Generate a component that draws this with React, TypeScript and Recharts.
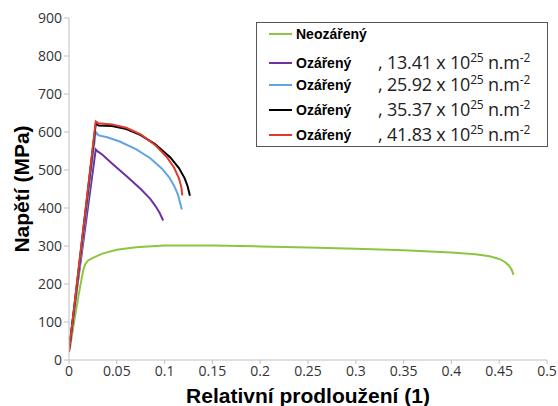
import { Line, LineChart, XAxis, YAxis } from "recharts";

const xTicks = [0, 0.05, 0.1, 0.15, 0.2, 0.25, 0.3, 0.35, 0.4, 0.45, 0.5];
const yTicks = [0, 100, 200, 300, 400, 500, 600, 700, 800, 900];

const neozareny = [
  { x: 0.001, y: 32 }, { x: 0.005, y: 95 }, { x: 0.01, y: 170 }, { x: 0.015, y: 238 },
  { x: 0.017, y: 252 }, { x: 0.02, y: 262 }, { x: 0.025, y: 269 }, { x: 0.035, y: 280 },
  { x: 0.05, y: 290 }, { x: 0.07, y: 297 }, { x: 0.1, y: 301 }, { x: 0.15, y: 301 },
  { x: 0.2, y: 299 }, { x: 0.25, y: 296 }, { x: 0.3, y: 293 }, { x: 0.35, y: 289 },
  { x: 0.4, y: 283 }, { x: 0.425, y: 278 }, { x: 0.44, y: 273 }, { x: 0.45, y: 266 },
  { x: 0.456, y: 258 }, { x: 0.46, y: 249 }, { x: 0.463, y: 238 }, { x: 0.465, y: 224 },
];

const ozareny13 = [
  { x: 0.001, y: 50 }, { x: 0.028, y: 554 }, { x: 0.03, y: 549 }, { x: 0.035, y: 540 },
  { x: 0.045, y: 517 }, { x: 0.06, y: 484 }, { x: 0.075, y: 450 }, { x: 0.085, y: 424 },
  { x: 0.091, y: 403 }, { x: 0.095, y: 386 }, { x: 0.0985, y: 367 },
];

const ozareny25 = [
  { x: 0.001, y: 35 }, { x: 0.028, y: 600 }, { x: 0.031, y: 591 }, { x: 0.04, y: 586 },
  { x: 0.053, y: 575 }, { x: 0.07, y: 555 }, { x: 0.085, y: 531 }, { x: 0.097, y: 504 },
  { x: 0.105, y: 480 }, { x: 0.11, y: 458 }, { x: 0.114, y: 435 }, { x: 0.118, y: 396 },
];

const ozareny35 = [
  { x: 0.0, y: 22 }, { x: 0.028, y: 622 }, { x: 0.031, y: 617 }, { x: 0.045, y: 616 },
  { x: 0.06, y: 608 }, { x: 0.075, y: 592 }, { x: 0.09, y: 568 }, { x: 0.106, y: 533 },
  { x: 0.115, y: 505 }, { x: 0.121, y: 478 }, { x: 0.124, y: 458 }, { x: 0.1265, y: 432 },
];

const ozareny41 = [
  { x: 0.0, y: 22 }, { x: 0.028, y: 628 }, { x: 0.031, y: 623 }, { x: 0.045, y: 620 },
  { x: 0.06, y: 611 }, { x: 0.075, y: 594 }, { x: 0.09, y: 566 }, { x: 0.102, y: 535 },
  { x: 0.11, y: 506 }, { x: 0.115, y: 478 }, { x: 0.1175, y: 455 }, { x: 0.1185, y: 433 },
];

const legendRows = [
  { label: "Neozářený", dose: "", color: "#8cc63f" },
  { label: "Ozářený", dose: "13.41", color: "#7030a0" },
  { label: "Ozářený", dose: "25.92", color: "#5ea5e6" },
  { label: "Ozářený", dose: "35.37", color: "#000000" },
  { label: "Ozářený", dose: "41.83", color: "#e03a2f" },
];

const tickStyle = { fill: "#333", fontSize: 14, fontFamily: "'Open Sans', sans-serif" };
const rowTops = [0, 29, 51, 76, 101];
const titleFont = { fill: "#000", fontSize: 21, fontWeight: "bold", fontFamily: "'Liberation Sans', Arial, sans-serif" };

function ChartLegend() {
  return (
    <div
      style={{
        position: "absolute",
        left: 256,
        top: 22,
        width: 292,
        height: 125,
        border: "1px solid #555",
        background: "#fff",
        boxSizing: "border-box",
      }}
    >
      {legendRows.map((r, i) => (
        <div
          key={i}
          style={{
            position: "absolute",
            left: 12,
            top: rowTops[i],
            height: 22,
            lineHeight: "22px",
            display: "flex",
            alignItems: "center",
            whiteSpace: "nowrap",
          }}
        >
          <span style={{ display: "inline-block", width: 23, height: 2, background: r.color, marginRight: 4 }} />
          <span style={{ fontFamily: "'Liberation Sans', Arial, sans-serif", fontWeight: "bold", fontSize: 14, width: 82 }}>
            {r.label}
          </span>
          {r.dose && (
            <span style={{ fontFamily: "'Open Sans', sans-serif", fontSize: 18, color: "#222", letterSpacing: -0.2 }}>
              , {r.dose} x 10
              <span style={{ fontSize: 12, position: "relative", top: -7 }}>25</span> n.m
              <span style={{ fontSize: 12, position: "relative", top: -7 }}>-2</span>
            </span>
          )}
        </div>
      ))}
    </div>
  );
}

export default function App() {
  return (
    <div style={{ position: "absolute", left: 0, top: 0, width: 558, height: 406, background: "#fff" }}>
      <LineChart width={558} height={406} margin={{ top: 18, right: 11, bottom: 0, left: 0 }}>
        <XAxis
          type="number"
          dataKey="x"
          domain={[0, 0.5]}
          ticks={xTicks}
          tickFormatter={(v: number) => String(Math.round(v * 100) / 100)}
          tick={tickStyle}
          tickSize={4}
          tickMargin={2}
          stroke="#bfbfbf"
          height={46}
          allowDataOverflow
          label={{
            value: "Relativní prodloužení (1)",
            position: "insideBottom",
            offset: 3,
            style: titleFont,
          }}
        />
        <YAxis
          type="number"
          domain={[0, 900]}
          ticks={yTicks}
          tick={tickStyle}
          tickSize={5}
          tickMargin={2}
          stroke="#bfbfbf"
          width={69}
          label={{
            value: "Napětí (MPa)",
            angle: -90,
            position: "insideLeft",
            offset: 22,
            style: { ...titleFont, textAnchor: "middle" },
          }}
        />
        <Line data={neozareny} dataKey="y" stroke="#8cc63f" strokeWidth={2} dot={false} type="linear" isAnimationActive={false} />
        <Line data={ozareny13} dataKey="y" stroke="#7030a0" strokeWidth={2} dot={false} type="linear" isAnimationActive={false} />
        <Line data={ozareny25} dataKey="y" stroke="#5ea5e6" strokeWidth={2} dot={false} type="linear" isAnimationActive={false} />
        <Line data={ozareny35} dataKey="y" stroke="#000000" strokeWidth={2} dot={false} type="linear" isAnimationActive={false} />
        <Line data={ozareny41} dataKey="y" stroke="#e03a2f" strokeWidth={2} dot={false} type="linear" isAnimationActive={false} />
      </LineChart>
      <ChartLegend />
    </div>
  );
}
